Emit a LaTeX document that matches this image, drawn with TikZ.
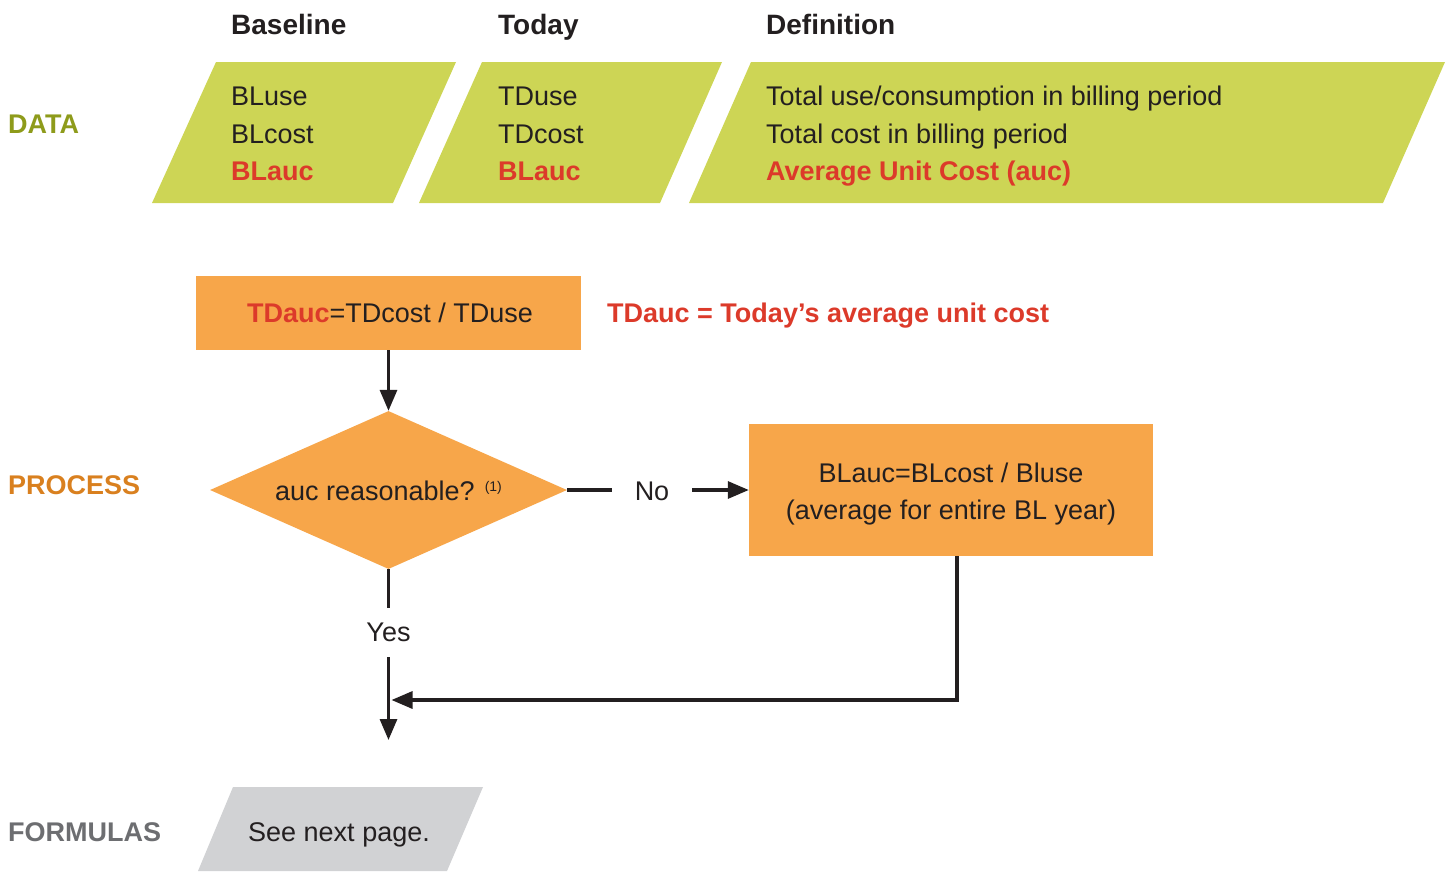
\documentclass[tikz,border=0pt]{standalone}
\usepackage{fontspec}
\setmainfont{Liberation Sans}
\usetikzlibrary{shapes.geometric,arrows.meta}
\definecolor{datagreen}{HTML}{CDD555}
\definecolor{dataolive}{HTML}{8E9B1B}
\definecolor{procorange}{HTML}{F7A64A}
\definecolor{proclabel}{HTML}{D9801F}
\definecolor{redtext}{HTML}{DC3A2A}
\definecolor{formgray}{HTML}{D1D2D4}
\definecolor{formlabel}{HTML}{6D6E71}
\definecolor{ink}{HTML}{231F20}
\newcommand\bodyfnt{\fontsize{27}{37}\selectfont}
\newcommand\headfnt{\fontsize{28}{32}\selectfont\bfseries}
\begin{document}
\begin{tikzpicture}[x=1pt,y=-1pt,
  txt/.style={anchor=base west,inner sep=0pt,text=ink,font=\bodyfnt},
  head/.style={anchor=base west,inner sep=0pt,text=ink,font=\headfnt},
  sidelabel/.style={anchor=base west,inner sep=0pt,font=\fontsize{27}{30}\selectfont\bfseries},
  redb/.style={text=redtext,font=\bodyfnt\bfseries},
  procbox/.style={rectangle,fill=procorange,inner sep=0pt,text=ink,font=\bodyfnt,align=center},
  conn/.style={line width=3.2pt,draw=ink},
  arr/.style={conn,-{Triangle[length=21pt,width=17pt]}}
]
\useasboundingbox (0,0) rectangle (1448,871);

% DATA parallelograms
\fill[datagreen] (216,62) -- (456,62) -- (393,203) -- (152,203) -- cycle;
\fill[datagreen] (482,62) -- (722,62) -- (660,203) -- (419,203) -- cycle;
\fill[datagreen] (751,62) -- (1445,62) -- (1383,203) -- (689,203) -- cycle;

% headings
\node[head] (hb) at (231,34) {Baseline};
\node[head] (ht) at (498,34) {Today};
\node[head] (hd) at (766,34) {Definition};

% side labels
\node[sidelabel,text=dataolive] (ldata) at (8,133) {DATA};
\node[sidelabel,text=proclabel] (lproc) at (8,494) {PROCESS};
\node[sidelabel,text=formlabel] (lform) at (8,841) {FORMULAS};

% data texts
\node[txt] (b1) at (231,105) {BLuse};
\node[txt] (b2) at (231,143) {BLcost};
\node[txt,redb] (b3) at (231,180) {BLauc};
\node[txt] (t1) at (498,105) {TDuse};
\node[txt] (t2) at (498,143) {TDcost};
\node[txt,redb] (t3) at (498,180) {BLauc};
\node[txt] (d1) at (766,105) {Total use/consumption in billing period};
\node[txt] (d2) at (766,143) {Total cost in billing period};
\node[txt,redb] (d3) at (766,180) {Average Unit Cost (auc)};

% process
\node[procbox,minimum width=385pt,minimum height=74pt] (box1) at (388.5,313) {};
\node[txt] (box1txt) at (247,322) {\textcolor{redtext}{\bfseries TDauc}=TDcost / TDuse};
\node[txt,redb] (tdnote) at (607,322) {TDauc = Today’s average unit cost};

\node[diamond,aspect=2.26,fill=procorange,inner sep=0pt,minimum width=357pt,minimum height=158pt] (dia) at (388.5,490) {};
\node[inner sep=0pt,text=ink,font=\bodyfnt,anchor=base] (diatxt) at (388.5,500)
  {auc reasonable? \raisebox{9pt}{\fontsize{14}{14}\selectfont(1)}};

\node[procbox,minimum width=404pt,minimum height=132pt] (box2) at (951,490) {};
\node[inner sep=0pt,text=ink,font=\bodyfnt,align=center,anchor=base] (box2txt) at (951,519)
  {BLauc=BLcost / Bluse\\(average for entire BL year)};

\node[inner sep=0pt,minimum width=80pt,text=ink,font=\bodyfnt,anchor=base] (no) at (652,500) {No};
\node[inner sep=0pt,minimum height=49pt,text=ink,font=\bodyfnt] (yes) at (388.5,632.5) {Yes};

\coordinate (yend) at (388.5,740);
\coordinate (join) at (388.5,700);

\draw[arr] (box1.south) -- (dia.north);
\draw[conn] (dia.east) -- (dia.east -| no.west);
\draw[arr] (dia.east -| no.east) -- (box2.west);
\draw[conn] (dia.south) -- (yes.north);
\draw[arr] (yes.south) -- (yend);
\draw[arr] (box2.south -| 957,0) |- ([xshift=3pt]join);

% formulas
\fill[formgray] (233,787) -- (483,787) -- (447,871) -- (198,871) -- cycle;
\node[txt] (see) at (248,841) {See next page.};
\end{tikzpicture}
\end{document}
